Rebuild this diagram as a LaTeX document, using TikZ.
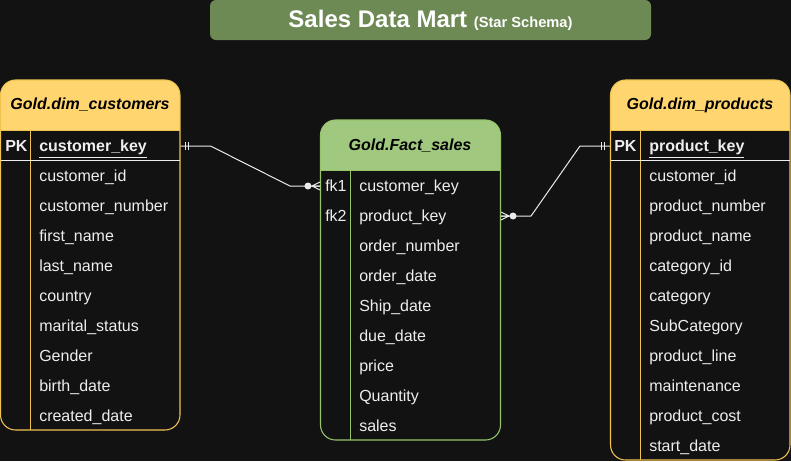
\documentclass[tikz,border=0pt]{standalone}
\usepackage{fontspec}
\setmainfont{Liberation Sans}
\usetikzlibrary{positioning,calc}

\definecolor{bgdark}{RGB}{18,18,18}
\definecolor{titlegreen}{RGB}{109,137,84}
\definecolor{dimyellow}{RGB}{255,213,111}
\definecolor{dimborder}{RGB}{240,195,80}
\definecolor{factgreen}{RGB}{160,201,127}
\definecolor{factborder}{RGB}{151,196,106}
\definecolor{rowfg}{RGB}{238,238,238}
\definecolor{relcol}{RGB}{235,235,235}

\tikzset{
  rowtext/.style={text=rowfg, font=\fontsize{12}{14}\selectfont, inner sep=0pt,
    text height=10pt, text depth=1.4pt, anchor=west},
  keytext/.style={rowtext, font=\fontsize{12}{14}\selectfont\bfseries},
  headtext/.style={text=black, font=\fontsize{12}{14}\selectfont\bfseries\itshape},
  tabframe/.style={rounded corners=11.25pt, line width=0.8pt, inner sep=0pt},
  rel/.style={draw=relcol, line width=0.75pt},
  mandone/.pic={\draw[relcol, line width=0.75pt] (5,-4) -- (5,4) (8,-4) -- (8,4);},
  zeromany/.pic={\draw[relcol, line width=0.75pt] (0,-4) -- (-8,0) -- (0,4) (0,0) -- (-8,0);
    \fill[relcol] (-12,0) circle[radius=3.5];},
}

\begin{document}
\begin{tikzpicture}[x=0.75pt, y=-0.75pt]
    \fill[bgdark] (0,0) rectangle (791,461);
    \useasboundingbox (0,0) rectangle (791,461);

    \node[fill=titlegreen, rounded corners=4.5pt, minimum width=330.75pt, minimum height=30pt,
      inner sep=0pt, text=white, font=\fontsize{18}{20}\selectfont\bfseries] (title) at (430.5,20)
      {Sales Data Mart {\fontsize{11}{13}\selectfont(Star Schema)}};

    % customers
    \begin{scope}
      \clip[rounded corners=11.25pt] (0.5,80) rectangle (180,430);
      \fill[dimyellow] (0,80) rectangle (181,130.5);
    \end{scope}
    \node[tabframe, draw=dimborder, minimum width=134.6pt, minimum height=262.5pt] (customers) at (90.25,255) {};
    \draw[dimborder, line width=0.8pt] (0.5,130.5) -- (180,130.5) (30.5,130.5) -- (30.5,430);
    \draw[rowfg, line width=0.8pt] (0.5,160.5) -- (180,160.5);
    \node[headtext] (customers-head) at (90,105) {Gold.dim\_customers};
    \node[keytext] (cust-pk) at (5,146) {PK};
    \node[keytext] (cust-key) at (39,146) {\underline{customer\_key}};
    \foreach \col [count=\i] in {customer\_id, customer\_number, first\_name, last\_name, country,
      marital\_status, Gender, birth\_date, created\_date}
      \node[rowtext] (cust-\i) at (39,146+30*\i) {\col};

    % fact
    \begin{scope}
      \clip[rounded corners=11.25pt] (320.5,120) rectangle (500.5,440);
      \fill[factgreen] (320,120) rectangle (501,170.5);
    \end{scope}
    \node[tabframe, draw=factborder, minimum width=135pt, minimum height=240pt] (fact) at (410.5,280) {};
    \draw[factborder, line width=0.8pt] (320.5,170.5) -- (500.5,170.5) (350.5,170.5) -- (350.5,440);
    \node[headtext] (fact-head) at (410,146) {Gold.Fact\_sales};
    \node[rowtext] (fact-fk1) at (325,186) {fk1};
    \node[rowtext] (fact-1) at (359,186) {customer\_key};
    \node[rowtext] (fact-fk2) at (325,216) {fk2};
    \node[rowtext] (fact-2) at (359,216) {product\_key};
    \foreach \col [count=\i from 3] in {order\_number, order\_date, Ship\_date, due\_date, price,
      Quantity, sales}
      \node[rowtext] (fact-\i) at (359,156+30*\i) {\col};

    % products
    \begin{scope}
      \clip[rounded corners=11.25pt] (610.5,80) rectangle (790,460);
      \fill[dimyellow] (610,80) rectangle (791,130.5);
    \end{scope}
    \node[tabframe, draw=dimborder, minimum width=134.6pt, minimum height=285pt] (products) at (700.25,270) {};
    \draw[dimborder, line width=0.8pt] (610.5,130.5) -- (790,130.5) (640.5,130.5) -- (640.5,460);
    \draw[rowfg, line width=0.8pt] (610.5,160.5) -- (790,160.5);
    \node[headtext] (products-head) at (700,105) {Gold.dim\_products};
    \node[keytext] (prod-pk) at (614,146) {PK};
    \node[keytext] (prod-key) at (649,146) {\underline{product\_key}};
    \foreach \col [count=\i] in {customer\_id, product\_number, product\_name, category\_id, category,
      SubCategory, product\_line, maintenance, product\_cost, start\_date}
      \node[rowtext] (prod-\i) at (649,146+30*\i) {\col};

    % relations
    \draw[rel] (customers.east |- cust-key) -- ++(30,0)
      -- ($(fact.west |- fact-1)+(-30,0)$) -- (fact.west |- fact-1);
    \draw[rel] (fact.east |- fact-2) -- ++(30,0)
      -- ($(products.west |- prod-key)+(-30,0)$) -- (products.west |- prod-key);
    \pic at (customers.east |- cust-key) {mandone};
    \pic at (fact.west |- fact-1) {zeromany};
    \pic[xscale=-1] at (fact.east |- fact-2) {zeromany};
    \pic[xscale=-1] at (products.west |- prod-key) {mandone};
\end{tikzpicture}
\end{document}
